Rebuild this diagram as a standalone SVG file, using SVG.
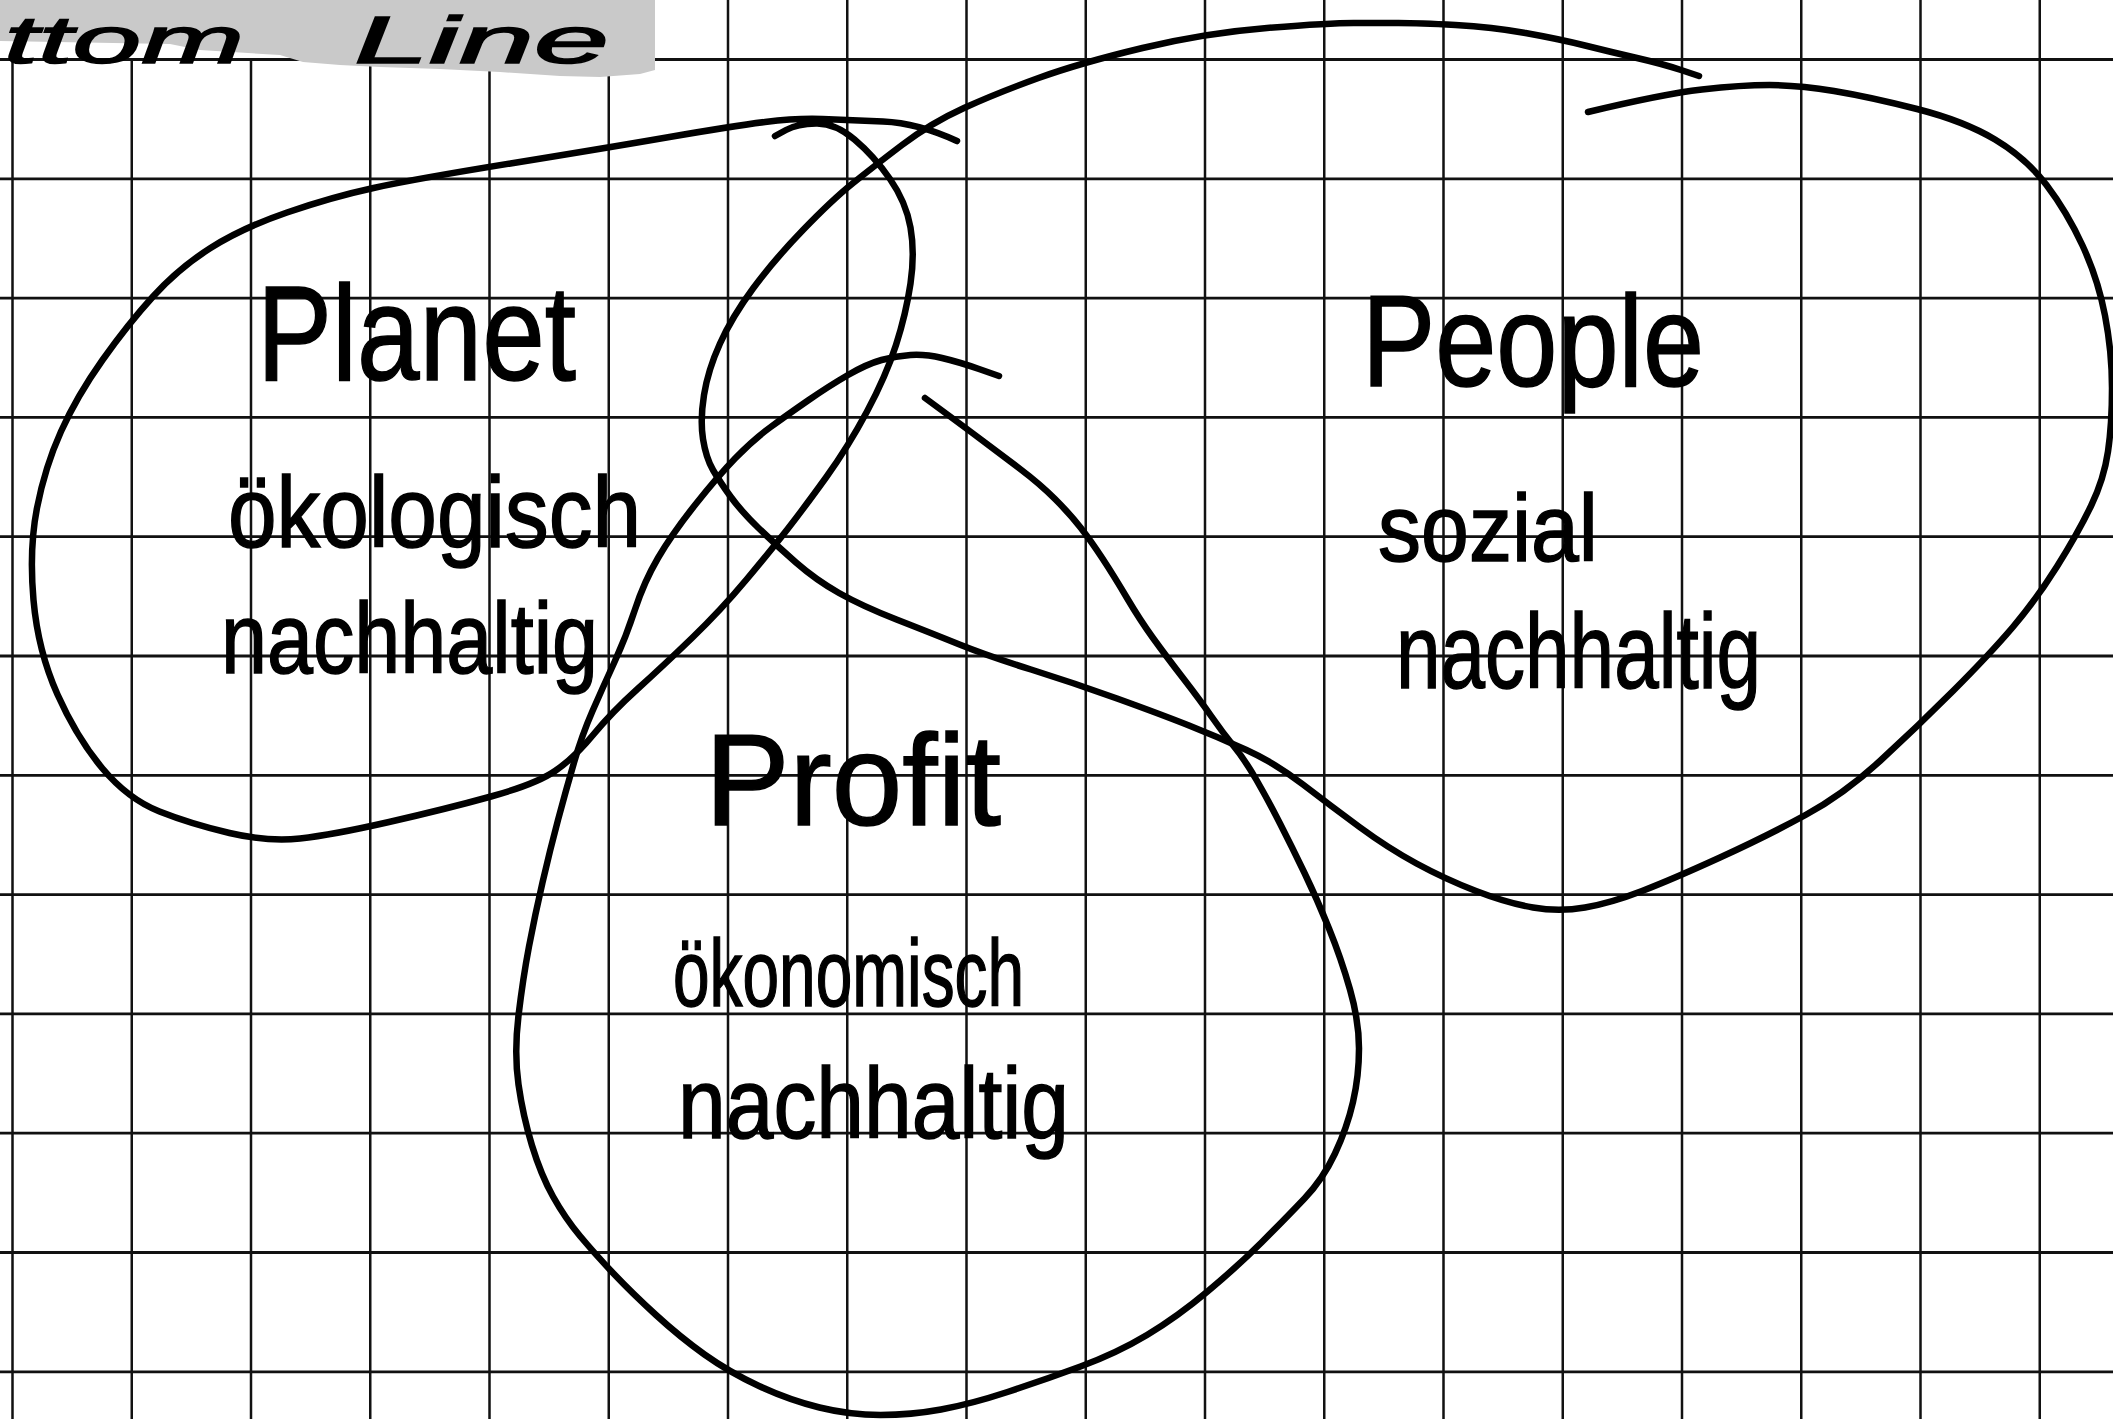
<svg xmlns="http://www.w3.org/2000/svg" width="2113" height="1419" viewBox="0 0 2113 1419">
<style>
.grid{stroke:#111;stroke-width:2.5;fill:none}
.gridh{stroke:#111;stroke-width:2.8;fill:none}
.loop{stroke:#000;stroke-width:6.5;fill:none;stroke-linecap:round;stroke-linejoin:round}
.hw{font-family:"Liberation Sans","DejaVu Sans",sans-serif;fill:#000;stroke:#000;stroke-width:1.5}
</style>
<rect width="2113" height="1419" fill="#fff"/>
<g id="grid">
<path class="grid" d="M12.5,0V1419M131.75,0V1419M251,0V1419M370.25,0V1419M489.5,0V1419M608.75,0V1419M728,0V1419M847.25,0V1419M966.5,0V1419M1085.75,0V1419M1205,0V1419M1324.25,0V1419M1443.5,0V1419M1562.75,0V1419M1682,0V1419M1801.25,0V1419M1920.5,0V1419M2039.75,0V1419"/>
<path class="gridh" d="M0,59.5H2113M0,178.8H2113M0,298.1H2113M0,417.4H2113M0,536.7H2113M0,656H2113M0,775.3H2113M0,894.6H2113M0,1013.9H2113M0,1133.2H2113M0,1252.5H2113M0,1371.8H2113"/>
</g>
<g id="header">
<rect x="0" y="0" width="656" height="58" fill="#fff"/>
<polygon fill="#c9c9c9" points="0,0 655,0 655,70 640,74 600,77 560,76 500,72 440,69 380,67 340,65 303,62 280,55 200,50 170,44 0,41"/>
<text class="hw" font-size="66" font-style="italic"><tspan x="4" y="63" textLength="240" lengthAdjust="spacingAndGlyphs">ttom</tspan> <tspan x="354" y="63" textLength="255" lengthAdjust="spacingAndGlyphs">Line</tspan></text>
</g>
<g id="node-planet">
<path class="loop" d="M775,136 L786,130 Q797,124 816,123.5 Q835,123 854.5,139.5 Q874,156 890,179 Q906,202 910.5,227.5 Q915,253 910.5,283.5 Q906,314 896,345 Q886,376 867,411.5 Q848,447 826,477.5 Q804,508 788,528.5 Q772,549 746.5,579.5 Q721,610 692,638 Q663,666 637.5,689 Q612,712 593,735 Q574,758 555,771 Q536,784 491,796.5 Q446,809 389,822 Q332,835 300,838.5 Q268,842 229.5,833 Q191,824 159.5,811.5 Q128,799 102.5,768.5 Q77,738 57.5,694.5 Q38,651 33.5,600 Q29,549 37,508 Q45,467 61,431.5 Q77,396 102.5,360 Q128,324 153.5,296 Q179,268 210.5,248 Q242,228 287,212.5 Q332,197 373.5,188 Q415,179 510.5,163.5 Q606,148 669.5,137 Q733,126 765,122 Q797,118 822.5,119 Q848,120 883,121.5 Q918,123 957,141"/>
<text class="hw" x="257" y="380" font-size="135" textLength="319" lengthAdjust="spacingAndGlyphs">Planet</text>
<text class="hw" x="228" y="547" font-size="100" textLength="413" lengthAdjust="spacingAndGlyphs">ökologisch</text>
<text class="hw" x="221" y="673" font-size="100" textLength="377" lengthAdjust="spacingAndGlyphs">nachhaltig</text>
</g>
<g id="node-people">
<path class="loop" d="M1699,76 L1681,70 Q1663,64 1637,58 Q1611,52 1585,45.5 Q1559,39 1525.5,33 Q1492,27 1455.5,25 Q1419,23 1398.5,23 Q1378,23 1353.5,23 Q1329,23 1267,28 Q1205,33 1142.5,48 Q1080,63 1038.5,78 Q997,93 964,108 Q931,123 902,145 Q873,167 852.5,183.5 Q832,200 803,230 Q774,260 753,288.5 Q732,317 720,343.5 Q708,370 704,395 Q700,420 703,439 Q706,458 713,470 Q720,482 730.5,496.5 Q741,511 758.5,528 Q776,545 796,562.5 Q816,580 839,593 Q862,606 896.5,619.5 Q931,633 959.5,644.5 Q988,656 1031,669.5 Q1074,683 1117,698.5 Q1160,714 1189,725.5 Q1218,737 1246.5,750 Q1275,763 1303,784.5 Q1331,806 1359.5,827 Q1388,848 1416.5,863.5 Q1445,879 1476,891 Q1507,903 1533,907.5 Q1559,912 1585,907.5 Q1611,903 1642,891 Q1673,879 1720,857.5 Q1767,836 1805.5,815 Q1844,794 1880.5,760.5 Q1917,727 1953,691 Q1989,655 2012.5,627.5 Q2036,600 2057,566.5 Q2078,533 2091,506 Q2104,479 2108,451.5 Q2112,424 2112,388 Q2112,352 2105,315.5 Q2098,279 2082.5,245.5 Q2067,212 2046.5,185 Q2026,158 1995,139.5 Q1964,121 1917,109 Q1870,97 1834,91 Q1798,85 1769.5,85 Q1741,85 1702,89.5 Q1663,94 1588,112"/>
<text class="hw" x="1362" y="386" font-size="130" textLength="342" lengthAdjust="spacingAndGlyphs">People</text>
<text class="hw" x="1378" y="561" font-size="95" textLength="220" lengthAdjust="spacingAndGlyphs">sozial</text>
<text class="hw" x="1396" y="688" font-size="105" textLength="365" lengthAdjust="spacingAndGlyphs">nachhaltig</text>
</g>
<g id="node-profit">
<path class="loop" d="M999,376 L979,369 Q959,362 942,358 Q925,354 910.5,355 Q896,356 881.5,360 Q867,364 848,375 Q829,386 808,400.5 Q787,415 770,427.5 Q753,440 735.5,458 Q718,476 695,505 Q672,534 658,558 Q644,582 635,609.5 Q626,637 614.5,662 Q603,687 592.5,711 Q582,735 574,762.5 Q566,790 558,820 Q550,850 542.5,882.5 Q535,915 529,946.5 Q523,978 518.5,1015.5 Q514,1053 518.5,1084.5 Q523,1116 532,1145.5 Q541,1175 553,1196.5 Q565,1218 580,1236 Q595,1254 613.5,1273.5 Q632,1293 656,1315 Q680,1337 704.5,1354.5 Q729,1372 759,1386 Q789,1400 819.5,1407.5 Q850,1415 880.5,1415 Q911,1415 941,1409.5 Q971,1404 1007.5,1392 Q1044,1380 1080.5,1366.5 Q1117,1353 1147,1335 Q1177,1317 1207.5,1291.5 Q1238,1266 1262,1242 Q1286,1218 1304.5,1198.5 Q1323,1179 1335,1153.5 Q1347,1128 1353,1102 Q1359,1076 1359,1048.5 Q1359,1021 1350,989.5 Q1341,958 1329,928.5 Q1317,899 1304.5,873 Q1292,847 1280,823.5 Q1268,800 1256.5,780 Q1245,760 1234,746.5 Q1223,733 1211.5,716.5 Q1200,700 1183,678 Q1166,656 1153,638 Q1140,620 1127,598 Q1114,576 1102.5,558.5 Q1091,541 1080.5,527.5 Q1070,514 1055,499 Q1040,484 1019.5,468.5 Q999,453 979,438 Q959,423 925,398"/>
<text class="hw" x="705" y="825" font-size="130" textLength="296" lengthAdjust="spacingAndGlyphs">Profit</text>
<text class="hw" x="673" y="1006" font-size="95" textLength="351" lengthAdjust="spacingAndGlyphs">ökonomisch</text>
<text class="hw" x="678" y="1138" font-size="100" textLength="391" lengthAdjust="spacingAndGlyphs">nachhaltig</text>
</g>
<g id="connectors"/>
</svg>
